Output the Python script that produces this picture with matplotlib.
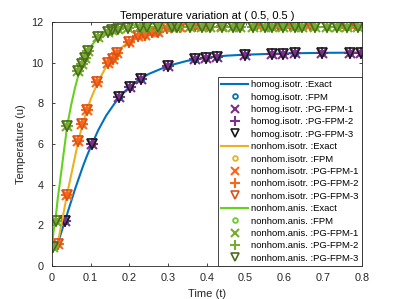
import matplotlib as mpl
mpl.use('Agg')
import matplotlib.pyplot as plt

plt.rcParams['font.family'] = ['Liberation Sans', 'DejaVu Sans']

# exact solutions
t_exact = [0.0, 0.005, 0.01, 0.015, 0.02, 0.03, 0.04, 0.05, 0.06, 0.07, 0.08,
           0.09, 0.10, 0.12, 0.14, 0.16, 0.18, 0.20, 0.22, 0.25, 0.30, 0.35,
           0.40, 0.45, 0.50, 0.60, 0.70, 0.80]
u_homog = [None, None, 0.95, 1.0, 1.4, 2.0, 2.6, 3.2, 3.8, 4.35, 4.9, 5.4,
           5.85, 6.7, 7.4, 7.95, 8.45, 8.8, 9.1, 9.45, 9.85, 10.1, 10.25,
           10.35, 10.4, 10.46, 10.49, 10.5]
u_nonhom_iso = [None, None, 0.95, 1.1, 1.6, 2.6, 3.6, 4.5, 5.4, 6.3, 7.0,
                7.65, 8.2, 9.1, 9.8, 10.35, 10.75, 11.05, 11.3, 11.55, 11.8,
                11.9, 11.95, 11.97, 11.98, 11.99, 12.0, 12.0]
u_nonhom_anis = [0.95, 1.8, 2.4, 3.3, 4.0, 5.5, 6.95, 7.95, 8.8, 9.5, 10.05,
                 10.45, 10.8, 11.25, 11.5, 11.65, 11.75, 11.82, 11.87, 11.92,
                 11.96, 11.98, 11.99, 12.0, 12.0, 12.0, 12.0, 12.0]

# numerical solutions (FPM / PG-FPM markers overlap)
t_homog_pts = [0.034, 0.103, 0.173, 0.201, 0.23, 0.30, 0.369, 0.397, 0.426,
               0.498, 0.568, 0.596, 0.627, 0.697, 0.769, 0.797]
u_homog_pts = [2.2, 6.0, 8.3, 8.8, 9.2, 9.85, 10.2, 10.25, 10.3, 10.4, 10.45,
               10.45, 10.47, 10.5, 10.5, 10.5]
t_iso_pts = [0.015, 0.039, 0.067, 0.077, 0.09, 0.116, 0.145, 0.158, 0.168,
             0.2, 0.222, 0.24, 0.258, 0.274, 0.297, 0.33, 0.37, 0.4, 0.44,
             0.48, 0.53, 0.583, 0.614, 0.665, 0.743, 0.782]
u_iso_pts = [1.1, 3.5, 6.15, 7.0, 7.7, 9.07, 10.0, 10.2, 10.5, 11.0, 11.3,
             11.35, 11.5, 11.5, 11.7, 11.78, 11.8, 11.82, 11.83, 11.84,
             11.85, 11.85, 11.86, 11.86, 11.86, 11.86]
t_anis_pts = [0.003, 0.01, 0.039, 0.067, 0.077, 0.085, 0.093, 0.119, 0.145,
              0.155, 0.17, 0.196, 0.227, 0.245, 0.274, 0.31, 0.323, 0.356,
              0.387, 0.408, 0.439, 0.467, 0.485, 0.519, 0.55, 0.568, 0.596,
              0.627, 0.645, 0.679, 0.71, 0.736, 0.761, 0.79]
u_anis_pts = [0.95, 2.2, 6.9, 9.6, 9.95, 10.25, 10.6, 11.25, 11.5, 11.6,
              11.65, 11.72, 11.75, 11.75, 11.76, 11.77, 11.77, 11.77, 11.78,
              11.78, 11.78, 11.78, 11.78, 11.78, 11.78, 11.78, 11.78, 11.78,
              11.78, 11.78, 11.78, 11.78, 11.78, 11.78]

names = ['homog.isotr.', 'nonhom.isotr.', 'nonhom.anis.']
exact = [u_homog, u_nonhom_iso, u_nonhom_anis]
pts_t = [t_homog_pts, t_iso_pts, t_anis_pts]
pts_u = [u_homog_pts, u_iso_pts, u_anis_pts]
line_cols = [(0, 0.447, 0.741), (0.929, 0.694, 0.125), (0.4, 0.82, 0.12)]
pg_cols = [(0.494, 0.184, 0.556), (0.98, 0.4, 0.1), (0.466, 0.674, 0.188)]
tri_cols = [(0.1, 0.1, 0.1), (0.85, 0.325, 0.098), (0.3, 0.42, 0.12)]
dark = (0.15, 0.15, 0.15)

fig = plt.figure(figsize=(3.99, 2.99), dpi=100)
ax = fig.add_axes([0.130, 0.110, 0.777, 0.816])

for i in range(3):
    te = [t for t, u in zip(t_exact, exact[i]) if u is not None]
    ue = [u for u in exact[i] if u is not None]
    ax.plot(te, ue, '-', color=line_cols[i], lw=1.5,
            label='%s :Exact' % names[i])
    ax.plot(pts_t[i], pts_u[i], 'o', color=line_cols[i], ms=4, mfc='none',
            mew=1.3, label='%s :FPM' % names[i])
    ax.plot(pts_t[i], pts_u[i], 'x', color=pg_cols[i], ms=7, mew=1.5,
            label='%s :PG-FPM-1' % names[i])
    ax.plot(pts_t[i], pts_u[i], '+', color=pg_cols[i], ms=8, mew=1.5,
            label='%s :PG-FPM-2' % names[i])
    ax.plot(pts_t[i], pts_u[i], 'v', color=tri_cols[i], ms=6.5, mfc='none',
            mew=1.2, label='%s :PG-FPM-3' % names[i])

ax.set_xlim(0, 0.8)
ax.set_ylim(0, 12)
ax.set_xticks([0, 0.1, 0.2, 0.3, 0.4, 0.5, 0.6, 0.7, 0.8])
ax.set_xticklabels(['0', '0.1', '0.2', '0.3', '0.4', '0.5', '0.6', '0.7', '0.8'])
ax.set_yticks([0, 2, 4, 6, 8, 10, 12])
ax.tick_params(direction='in', top=True, right=True, labelsize=7.8,
               colors=dark, length=2.5, width=0.6)
ax.tick_params(axis='x', pad=5)
ax.tick_params(axis='y', pad=6)
for sp in ax.spines.values():
    sp.set_color(dark)
    sp.set_linewidth(0.6)
ax.set_xlabel('Time (t)', fontsize=8, color=dark, labelpad=4)
ax.set_ylabel('Temperature (u)', fontsize=8, color=dark, labelpad=4)
ax.set_title('Temperature variation at ( 0.5, 0.5 )', fontsize=8, pad=2)

leg = ax.legend(loc='lower right', fontsize=6.8, borderaxespad=0,
                labelspacing=0.36, handlelength=2.9, handletextpad=0.3,
                borderpad=0.35, fancybox=False, framealpha=1,
                markerscale=0.85)
leg.get_frame().set_edgecolor(dark)
leg.get_frame().set_linewidth(0.6)

plt.savefig('out.png', dpi=100)
plt.close()
